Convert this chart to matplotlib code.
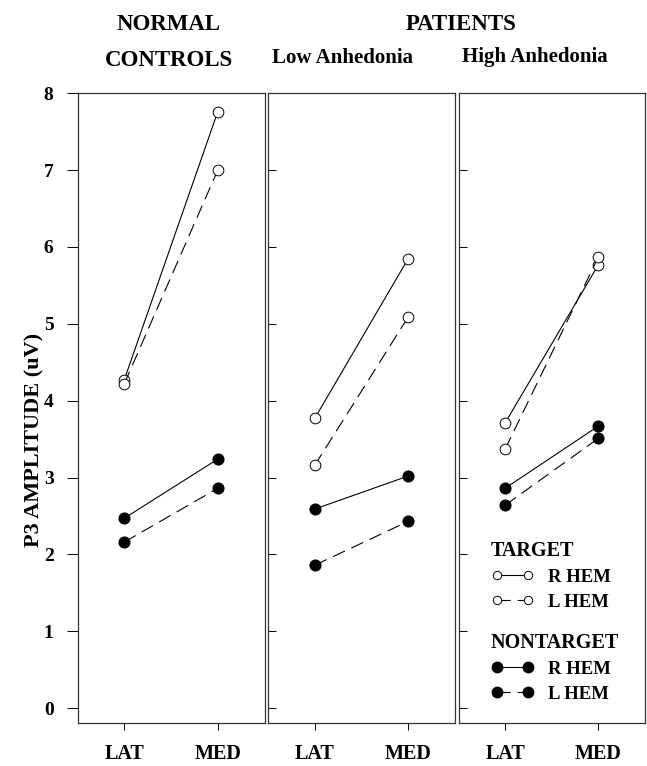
import matplotlib
matplotlib.use("Agg")
import matplotlib.pyplot as plt
from matplotlib.lines import Line2D

plt.rcParams['font.family'] = ['Liberation Serif', 'DejaVu Serif']
plt.rcParams['font.weight'] = 'bold'
plt.rcParams['lines.scale_dashes'] = False

# Electrode sites on the x axis
sites = ['LAT', 'MED']
# Panel headings
groups = ['NORMAL\nCONTROLS', 'Low Anhedonia', 'High Anhedonia']

# P3 amplitude (uV) per panel, [LAT, MED]
target_r = [[4.27, 7.76], [3.77, 5.85], [3.71, 5.77]]
target_l = [[4.22, 7.00], [3.16, 5.09], [3.37, 5.87]]
nontarget_r = [[2.47, 3.24], [2.59, 3.02], [2.86, 3.67]]
nontarget_l = [[2.16, 2.86], [1.86, 2.43], [2.64, 3.51]]

W, H = 647, 766
fig = plt.figure(figsize=(W / 100, H / 100), dpi=100)

dash = (0, (9.5, 5))
lw = 0.8
ms = 7.7

# panel left/right edges in pixels
edges = [(77.5, 264.5), (268, 455), (458.5, 645)]
top_px, bot_px = 93.3, 722.7

axes = []
for i, (l, r) in enumerate(edges):
    ax = fig.add_axes([l / W, 1 - bot_px / H, (r - l) / W, (bot_px - top_px) / H])
    axes.append(ax)
    x = [0, 1]
    ax.plot(x, target_r[i], '-', color='black', lw=lw, marker='o', ms=ms,
            mfc='white', mec='black', mew=0.7)
    ax.plot(x, target_l[i], linestyle=dash, color='black', lw=lw, marker='o', ms=ms,
            mfc='white', mec='black', mew=0.7)
    ax.plot(x, nontarget_r[i], '-', color='black', lw=lw, marker='o', ms=ms,
            mfc='black', mec='black')
    ax.plot(x, nontarget_l[i], linestyle=dash, color='black', lw=lw, marker='o', ms=ms,
            mfc='black', mec='black')
    ax.set_xlim(-0.5, 1.5)
    ax.set_ylim(-0.19, 8)
    ax.set_xticks(x)
    ax.set_xticklabels(sites, fontsize=14.5, fontweight='bold')
    ax.tick_params(axis='x', direction='out', length=5, width=0.7, pad=10)
    ax.set_yticks(range(0, 9))
    for s in ax.spines.values():
        s.set_linewidth(0.9)
        s.set_color('#333333')
    if i == 0:
        ax.tick_params(axis='y', direction='out', length=7.7, width=0.7, pad=9.5,
                       labelsize=14)
        for t in ax.get_yticklabels():
            t.set_fontweight('bold')
        ax.set_ylabel('P3 AMPLITUDE (uV)', fontsize=16, fontweight='bold')
        ax.yaxis.set_label_coords((44 - l) / (r - l), 0.45)
    else:
        ax.tick_params(axis='y', direction='in', length=6, width=0.7, labelleft=False)

# headings
fig.text(169 / W, 1 - 24 / H, 'NORMAL', ha='center', va='center', fontsize=16.5, fontweight='bold')
fig.text(169 / W, 1 - 60 / H, 'CONTROLS', ha='center', va='center', fontsize=16.5, fontweight='bold')
fig.text(461 / W, 1 - 24 / H, 'PATIENTS', ha='center', va='center', fontsize=16.5, fontweight='bold')
fig.text(343 / W, 1 - 58 / H, groups[1], ha='center', va='center', fontsize=15, fontweight='bold')
fig.text(535 / W, 1 - 57 / H, groups[2], ha='center', va='center', fontsize=15, fontweight='bold')

# legends in the last panel
ax = axes[2]
t_handles = [
    Line2D([], [], color='black', lw=lw, marker='o', ms=6, mfc='white', mec='black', mew=0.7),
    Line2D([], [], color='black', lw=lw, linestyle=dash, marker='o', ms=6, mfc='white',
           mec='black', mew=0.7),
]
n_handles = [
    Line2D([], [], color='black', lw=lw, marker='o', ms=7.5, mfc='black', mec='black'),
    Line2D([], [], color='black', lw=lw, linestyle=dash, marker='o', ms=7.5, mfc='black',
           mec='black'),
]
leg_kw = dict(loc='upper left', frameon=False, numpoints=2, borderpad=0, borderaxespad=0,
              handlelength=2.26, handletextpad=0.77, labelspacing=0.42,
              prop={'size': 13.5, 'weight': 'bold'},
              title_fontproperties={'size': 14.5, 'weight': 'bold'}, alignment='left')
leg1 = ax.legend(t_handles, ['R HEM', 'L HEM'], title='TARGET',
                 bbox_to_anchor=(491 / W, 1 - 541 / H), bbox_transform=fig.transFigure, **leg_kw)
ax.add_artist(leg1)
ax.legend(n_handles, ['R HEM', 'L HEM'], title='NONTARGET',
          bbox_to_anchor=(491 / W, 1 - 633 / H), bbox_transform=fig.transFigure, **leg_kw)

fig.savefig('out.png', dpi=100)
